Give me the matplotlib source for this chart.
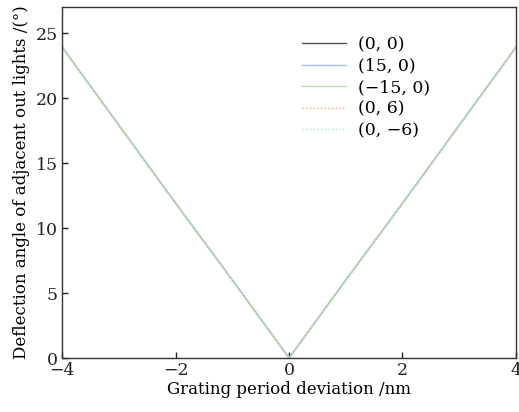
import matplotlib
matplotlib.use("Agg")
import matplotlib.pyplot as plt

plt.rcParams['font.family'] = ['DejaVu Serif']

# grating period deviation (nm)
period_dev = [-4, -3, -2, -1, 0, 1, 2, 3, 4]

# deflection angle of adjacent out lights (deg), one list per incidence case
angle_0_0 = [23.9, 17.9, 11.9, 6.0, 0.0, 6.0, 11.9, 17.9, 23.9]
angle_15_0 = [23.9, 17.9, 11.9, 6.0, 0.0, 6.0, 11.9, 17.9, 23.9]
angle_m15_0 = [23.9, 17.9, 11.9, 6.0, 0.0, 6.0, 11.9, 17.9, 23.9]
angle_0_6 = [23.9, 17.9, 11.9, 6.0, 0.0, 6.0, 11.9, 17.9, 23.9]
angle_0_m6 = [23.9, 17.9, 11.9, 6.0, 0.0, 6.0, 11.9, 17.9, 23.9]

labels = ['(0, 0)', '(15, 0)', '(\u221215, 0)', '(0, 6)', '(0, \u22126)']

fig = plt.figure(figsize=(5.19, 4.12), dpi=100)
ax = fig.add_axes([0.120, 0.131, 0.874, 0.852])

ax.plot(period_dev, angle_0_0, color='#555555', lw=1.0, label=labels[0])
ax.plot(period_dev, angle_15_0, color='#a9bde0', lw=1.0, label=labels[1])
ax.plot(period_dev, angle_m15_0, color='#b9dcaa', lw=1.0, label=labels[2])
ax.plot(period_dev, angle_0_6, color='#f4a88c', lw=1.0, ls=':', label=labels[3])
ax.plot(period_dev, angle_0_m6, color='#a8e4e4', lw=1.0, ls=':', label=labels[4])

ax.set_xlim(-4, 4)
ax.set_ylim(0, 27)
ax.set_xticks([-4, -2, 0, 2, 4])
ax.set_yticks([0, 5, 10, 15, 20, 25])
ax.set_xticklabels(['\u22124', '\u22122', '0', '2', '4'])
ax.tick_params(direction='in', length=4, width=1, labelsize=12.5, colors='#222222', pad=3)
for s in ax.spines.values():
    s.set_linewidth(1.0)
    s.set_color('#333333')

ax.set_xlabel('Grating period deviation /nm', fontsize=12, labelpad=1)
ax.set_ylabel('Deflection angle of adjacent out lights /(\u00b0)', fontsize=12, labelpad=4)

ax.legend(loc='upper left', frameon=False, fontsize=12.5, handlelength=2.5,
          handletextpad=0.7, labelspacing=0.26, borderpad=0, borderaxespad=0,
          bbox_to_anchor=(0.529, 0.917))

fig.savefig('out.png', dpi=100)
